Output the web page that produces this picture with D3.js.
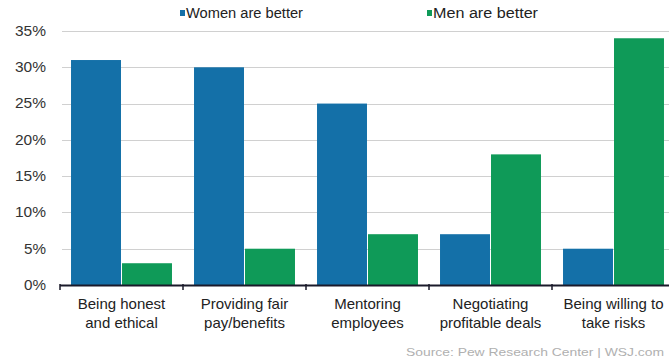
<!DOCTYPE html>
<html>
<head>
<meta charset="utf-8">
<script src="https://cdn.jsdelivr.net/npm/d3@7"></script>
<style>
  body { margin: 0; background: #fff; }
  svg { display: block; font-family: "Liberation Sans", Arial, sans-serif; }
</style>
</head>
<body>
<div id="chart"></div>
<script>
// data
const categories = [
  ["Being honest", "and ethical"],
  ["Providing fair", "pay/benefits"],
  ["Mentoring", "employees"],
  ["Negotiating", "profitable deals"],
  ["Being willing to", "take risks"]
];
const women = [31, 30, 25, 7, 5];
const men = [3, 5, 7, 18, 34];
const seriesNames = ["Women are better", "Men are better"];
const yTicks = [0, 5, 10, 15, 20, 25, 30, 35];
const colors = ["#1470a8", "#0f9a58"];

const width = 669, height = 364;
const margin = { top: 31, right: -6, bottom: 79, left: 60 };

const svg = d3.select("#chart").append("svg")
  .attr("width", width)
  .attr("height", height);

const x = d3.scaleBand()
  .domain(d3.range(categories.length))
  .range([margin.left, width - margin.right]);

const inner = 10; // gap from band edge to bars
const x1 = d3.scaleBand()
  .domain([0, 1])
  .range([inner, x.bandwidth() - inner])
  .padding(0.02);

const y = d3.scaleLinear()
  .domain([0, 35])
  .range([height - margin.bottom, margin.top]);

// gridlines
svg.append("g")
  .selectAll("line")
  .data(yTicks.slice(1))
  .join("line")
  .attr("x1", 62)
  .attr("x2", width)
  .attr("y1", d => Math.round(y(d)) + 0.5)
  .attr("y2", d => Math.round(y(d)) + 0.5)
  .attr("stroke", "#d0d0d0")
  .attr("stroke-width", 1);

// y labels (the original type is a little wide, so stretch it)
svg.append("g")
  .selectAll("text")
  .data(yTicks)
  .join("text")
  .attr("x", 46)
  .attr("y", d => y(d))
  .attr("dy", "0.35em")
  .attr("text-anchor", "end")
  .attr("font-size", 14)
  .attr("fill", "#333")
  .attr("textLength", d => d < 10 ? 22 : 31)
  .attr("lengthAdjust", "spacingAndGlyphs")
  .text(d => d + "%");

// bars
const groups = svg.append("g")
  .selectAll("g")
  .data(categories.map((c, i) => [women[i], men[i]]))
  .join("g")
  .attr("transform", (d, i) => `translate(${x(i)},0)`);

groups.selectAll("rect")
  .data(d => d)
  .join("rect")
  .attr("x", (d, j) => x1(j))
  .attr("width", x1.bandwidth())
  .attr("y", d => y(d))
  .attr("height", d => y(0) - y(d))
  .attr("fill", (d, j) => colors[j]);

// baseline with ticks
const base = svg.append("g");
base.append("line")
  .attr("x1", margin.left)
  .attr("x2", width)
  .attr("y1", y(0) + 0.5)
  .attr("y2", y(0) + 0.5)
  .attr("stroke", "#1a1a2a")
  .attr("stroke-width", 2);
base.selectAll("line.tick")
  .data(d3.range(categories.length))
  .join("line")
  .attr("class", "tick")
  .attr("x1", i => x(i))
  .attr("x2", i => x(i))
  .attr("y1", y(0) - 1)
  .attr("y2", y(0) + 5)
  .attr("stroke", "#1a1a2a")
  .attr("stroke-width", 1.5);

// category labels
const labels = svg.append("g")
  .selectAll("text")
  .data(categories)
  .join("text")
  .attr("x", (d, i) => x(i) + inner + (x.bandwidth() - 2 * inner) / 2)
  .attr("y", 309)
  .attr("text-anchor", "middle")
  .attr("font-size", 15)
  .attr("fill", "#222");
labels.selectAll("tspan")
  .data(d => d)
  .join("tspan")
  .attr("x", function () { return d3.select(this.parentNode).attr("x"); })
  .attr("dy", (d, k) => k === 0 ? 0 : 19)
  .text(d => d);

// legend
const legendX = [180, 427];
const legendW = [117, 105];
const legend = svg.append("g")
  .selectAll("g")
  .data(seriesNames)
  .join("g")
  .attr("transform", (d, i) => `translate(${legendX[i]},13)`);
legend.append("rect")
  .attr("x", 0)
  .attr("y", -3)
  .attr("width", 5)
  .attr("height", 6)
  .attr("fill", (d, i) => colors[i]);
legend.append("text")
  .attr("x", 6)
  .attr("y", 0)
  .attr("dy", "0.35em")
  .attr("font-size", 14)
  .attr("fill", "#222")
  .attr("textLength", (d, i) => legendW[i])
  .attr("lengthAdjust", "spacingAndGlyphs")
  .text(d => d);

// source
svg.append("text")
  .attr("x", 664)
  .attr("y", 356)
  .attr("text-anchor", "end")
  .attr("font-size", 11)
  .attr("fill", "#b0b0b0")
  .attr("textLength", 258)
  .attr("lengthAdjust", "spacingAndGlyphs")
  .text("Source: Pew Research Center  |  WSJ.com");
</script>
</body>
</html>
